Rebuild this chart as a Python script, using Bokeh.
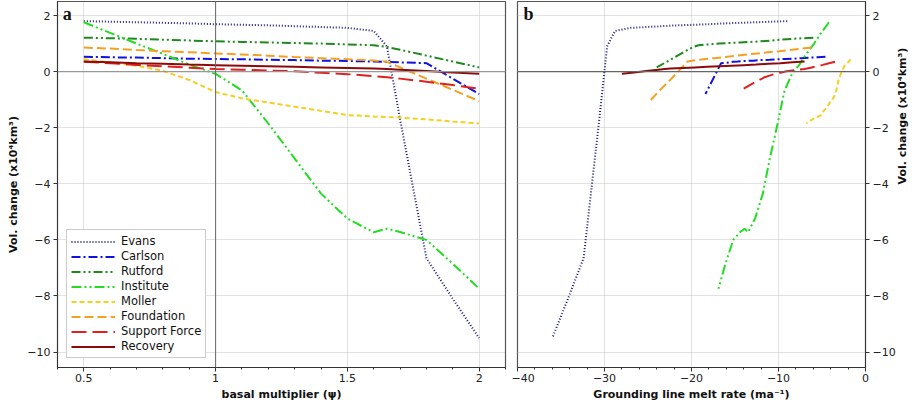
import math
from bokeh.plotting import figure
from bokeh.models import FixedTicker, Span, Label
from bokeh.layouts import row
from bokeh.embed import file_html
from bokeh.resources import INLINE

# basal multiplier grid (panel a x)
multiplier = [0.5, 0.6, 0.7, 0.8, 0.9, 1.0, 1.1, 1.2, 1.3, 1.4, 1.5, 1.6, 1.65, 1.7, 1.8, 1.9, 2.0]

# volume change (x10^4 km^3)
evans = [1.80, 1.78, 1.76, 1.74, 1.72, 1.69, 1.67, 1.65, 1.62, 1.59, 1.56, 1.45, 0.90, -1.70, -6.65, -8.10, -9.50]
carlson = [0.53, 0.51, 0.50, 0.48, 0.46, 0.45, 0.44, 0.42, 0.41, 0.39, 0.38, 0.36, 0.35, 0.33, 0.30, -0.25, -0.80]
rutford = [1.21, 1.19, 1.17, 1.14, 1.11, 1.08, 1.06, 1.04, 1.02, 1.00, 0.97, 0.94, 0.88, 0.78, 0.57, 0.36, 0.15]
institute = [1.76, 1.38, 1.00, 0.63, 0.25, -0.08, -0.67, -1.85, -3.10, -4.35, -5.24, -5.73, -5.60, -5.72, -6.00, -6.85, -7.74]
moller = [0.44, 0.33, 0.21, 0.03, -0.30, -0.73, -0.95, -1.10, -1.25, -1.40, -1.55, -1.60, -1.62, -1.64, -1.70, -1.78, -1.85]
foundation = [0.86, 0.82, 0.77, 0.73, 0.69, 0.65, 0.61, 0.57, 0.52, 0.48, 0.44, 0.40, 0.35, 0.15, -0.25, -0.65, -1.05]
support_force = [0.35, 0.30, 0.24, 0.19, 0.14, 0.09, 0.07, 0.04, 0.01, -0.04, -0.09, -0.16, -0.20, -0.25, -0.36, -0.48, -0.61]
recovery = [0.36, 0.33, 0.30, 0.28, 0.25, 0.23, 0.21, 0.19, 0.17, 0.15, 0.13, 0.11, 0.09, 0.07, 0.02, -0.03, -0.08]

# grounding line melt rate (m/a), panel b x
evans_melt = [-9.0, -10.8, -12.6, -14.4, -16.2, -18.0, -19.8, -21.6, -23.4, -25.2, -27.0, -28.8, -29.7, -30.6, -32.4, -34.2, -36.0]
carlson_melt = [-4.6, -5.5, -6.4, -7.4, -8.3, -9.2, -10.1, -11.0, -12.0, -12.9, -13.8, -14.7, -15.2, -15.6, -16.6, -17.5, -18.4]
rutford_melt = [-6.0, -7.2, -8.4, -9.6, -10.8, -12.0, -13.2, -14.4, -15.6, -16.8, -18.0, -19.2, -19.8, -20.4, -21.6, -22.8, -24.0]
institute_melt = [-4.2, -5.1, -5.9, -6.8, -7.6, -8.45, -9.3, -10.1, -11.0, -11.8, -12.7, -13.5, -13.9, -14.4, -15.2, -16.1, -16.9]
moller_melt = [-1.7, -2.0, -2.4, -2.7, -3.1, -3.4, -3.7, -4.1, -4.4, -4.8, -5.1, -5.4, -5.6, -5.8, -6.1, -6.5, -6.8]
foundation_melt = [-6.2, -7.4, -8.7, -9.9, -11.2, -12.4, -13.6, -14.9, -16.1, -17.4, -18.6, -19.8, -20.5, -21.1, -22.3, -23.6, -24.8]
support_force_melt = [-3.5, -4.2, -4.9, -5.6, -6.3, -7.0, -7.7, -8.4, -9.1, -9.8, -10.5, -11.2, -11.6, -11.9, -12.6, -13.3, -14.0]
recovery_melt = [-7.0, -8.4, -9.8, -11.2, -12.6, -14.0, -15.4, -16.8, -18.2, -19.6, -21.0, -22.4, -23.1, -23.8, -25.2, -26.6, -28.0]

names = ["Evans", "Carlson", "Rutford", "Institute", "Moller", "Foundation", "Support Force", "Recovery"]
vols = [evans, carlson, rutford, institute, moller, foundation, support_force, recovery]
melts = [evans_melt, carlson_melt, rutford_melt, institute_melt, moller_melt, foundation_melt, support_force_melt, recovery_melt]

colors = ["#1a1a80", "#1010e0", "#1e8a1e", "#22dd22", "#f5d020", "#f5a020", "#e02020", "#8b0a0a"]
dashes = ["1 2", "9 3 2 3", "9 3 2 3 2 3", "10 3 2 3 2 3", "5 3", "9 4", "15 6", "solid"]

y_ticks = [-10, -8, -6, -4, -2, 0, 2]
y_labels = {t: (str(t).replace("-", "\u2212")) for t in y_ticks}
a_ticks = [0.5, 1, 1.5, 2]
a_labels = {0.5: "0.5", 1: "1", 1.5: "1.5", 2: "2"}
b_ticks = [-40, -30, -20, -10, 0]
b_labels = {t: (str(t).replace("-", "\u2212")) for t in b_ticks}

FONT = "DejaVu Sans"
YLABEL = "Vol. change (x10\u2074km\u00b3)"
Y_RANGE = (-10.55, 2.5)


def style(p):
    p.outline_line_color = "#555555"
    p.outline_line_width = 1.2
    p.background_fill_color = "white"
    p.border_fill_color = "white"
    for ax in p.xaxis + p.yaxis:
        ax.major_label_text_font = FONT
        ax.major_label_text_font_size = "11px"
        ax.major_label_text_color = "#222222"
        ax.axis_label_text_font = FONT
        ax.axis_label_text_font_size = "11px"
        ax.axis_label_text_font_style = "bold"
        ax.axis_label_text_color = "#111111"
        ax.axis_line_color = "#333333"
        ax.major_tick_in = 0
        ax.major_tick_out = 4
        ax.minor_tick_in = 0
        ax.minor_tick_out = 2
        ax.major_tick_line_color = "#333333"
        ax.minor_tick_line_color = "#333333"
        ax.major_label_standoff = 3
        ax.axis_label_standoff = 4
    for ax in p.xaxis:
        ax.major_label_standoff = 2
        ax.axis_label_standoff = 3
    for ax in p.yaxis:
        ax.minor_tick_line_color = None
    for g in p.xgrid + p.ygrid:
        g.grid_line_color = "#c4c4c4"
        g.grid_line_dash = "1 1"
        g.grid_line_width = 1
    p.toolbar.logo = None


# ---------------- panel a ----------------
pa = figure(frame_width=448, frame_height=366, x_range=(0.4, 2.1), y_range=Y_RANGE,
            output_backend="svg", toolbar_location=None,
            min_border_left=57, min_border_right=6, min_border_top=1, min_border_bottom=0)
pa.xaxis.ticker = FixedTicker(ticks=a_ticks, minor_ticks=[0.4, 0.6, 0.7, 0.8, 0.9, 1.1, 1.2, 1.3, 1.4, 1.6, 1.7, 1.8, 1.9, 2.1])
pa.xaxis.major_label_overrides = a_labels
pa.yaxis.ticker = FixedTicker(ticks=y_ticks)
pa.yaxis.major_label_overrides = y_labels
pa.xaxis.axis_label = "basal multiplier (\u03c8)"
pa.yaxis.axis_label = YLABEL
style(pa)
pa.add_layout(Span(location=0, dimension="width", line_color="#999999", line_width=1.3))
pa.add_layout(Span(location=1, dimension="height", line_color="#666666", line_width=1))

for n, v, c, d in zip(names, vols, colors, dashes):
    pa.line(multiplier, v, line_color=c, line_width=2, line_dash=d, legend_label=n)

pa.legend.location = "bottom_left"
pa.legend.margin = 9
pa.legend.padding = 4
pa.legend.spacing = 1
pa.legend.label_text_font = FONT
pa.legend.label_text_font_size = "11.5px"
pa.legend.label_text_color = "#111111"
pa.legend.label_height = 13
pa.legend.glyph_height = 13
pa.legend.glyph_width = 44
pa.legend.label_standoff = 6
pa.legend.border_line_color = "#999999"
pa.legend.border_line_width = 1
pa.legend.background_fill_alpha = 1

pa.add_layout(Label(x=0.42, y=2.42, text="a", text_font="Liberation Serif", text_font_style="bold",
                    text_font_size="18px", text_baseline="top", text_color="#111111"))

# ---------------- panel b ----------------
pb = figure(frame_width=348, frame_height=366, x_range=(-40, 0), y_range=Y_RANGE,
            y_axis_location="right",
            output_backend="svg", toolbar_location=None,
            min_border_left=6, min_border_right=0, min_border_top=1, min_border_bottom=0)
pb.xaxis.ticker = FixedTicker(ticks=b_ticks, minor_ticks=[-38, -36, -34, -32, -28, -26, -24, -22, -18, -16, -14, -12, -8, -6, -4, -2])
pb.xaxis.major_label_overrides = b_labels
pb.yaxis.ticker = FixedTicker(ticks=y_ticks)
pb.yaxis.major_label_overrides = y_labels
pb.xaxis.axis_label = "Grounding line melt rate (ma\u207b\u00b9)"
pb.yaxis.axis_label = YLABEL
style(pb)
pb.yaxis.axis_label_orientation = math.pi / 2
pb.add_layout(Span(location=0, dimension="width", line_color="#666666", line_width=1.2))

for n, m, v, c, d in zip(names, melts, vols, colors, dashes):
    pb.line(m, v, line_color=c, line_width=2, line_dash=d)

pb.add_layout(Label(x=-39.3, y=2.42, text="b", text_font="Liberation Serif", text_font_style="bold",
                    text_font_size="18px", text_baseline="top", text_color="#111111"))

layout = row(pa, pb)
open("out.html", "w").write(file_html(layout, INLINE))
